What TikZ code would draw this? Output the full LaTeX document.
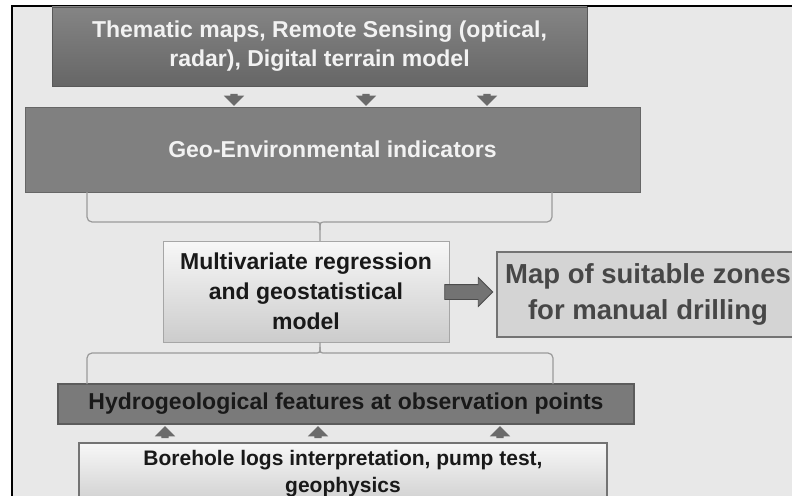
\documentclass[tikz,border=0pt]{standalone}
\usepackage{fontspec}
\setmainfont{Liberation Sans}
\usepackage{tikz}
\usetikzlibrary{arrows, positioning, shapes.arrows}

\definecolor{bgpanel}{HTML}{E8E8E8}
\definecolor{midbox}{HTML}{808080}
\definecolor{hydbox}{HTML}{7A7A7A}
\definecolor{mapbox}{HTML}{D4D4D4}
\definecolor{edgegray}{HTML}{5C5C5C}
\definecolor{linegray}{HTML}{9A9A9A}

\begin{document}
\begin{tikzpicture}[x=1pt, y=-1pt,
  box/.style={rectangle, inner sep=0pt, align=center, font=\bfseries},
  darkstep/.style={box, top color=black!48, bottom color=black!60, draw=black!65, text=white!95!black},
  geostep/.style={box, fill=midbox, draw=black!60, text=white!95!black},
  lightstep/.style={box, top color=white!97!black, bottom color=black!20, draw=black!35, text=black!90},
  tipdown/.style={single arrow, shape border rotate=270, fill=black!58, inner sep=3.5pt,
    minimum height=12pt, single arrow head extend=6.5pt},
  tipup/.style={tipdown, shape border rotate=90},
  link/.style={draw=linegray, line width=1.2pt}
]
\useasboundingbox (0,0) rectangle (792,495);
\clip (0,0) rectangle (792,495);

% frame
\fill[white] (0,0) rectangle (792,495);
\fill[bgpanel] (12,6) rectangle (800,500);
\draw[black, line width=2pt] (12,500) -- (12,6) -- (800,6);

% nodes
\node[darkstep, minimum width=535pt, minimum height=79pt, font=\bfseries\fontsize{23}{29}\selectfont] (src) at (319.5, 46.5)
  {Thematic maps, Remote Sensing (optical,\\radar), Digital terrain model};
\node[geostep, minimum width=615pt, minimum height=85pt, font=\bfseries\fontsize{23}{26}\selectfont] (geo) at (332.5, 149.5)
  {Geo-Environmental indicators};
\node[lightstep, minimum width=286pt, minimum height=101pt, font=\bfseries\fontsize{23}{30}\selectfont] (mult) at (306, 291.5)
  {Multivariate regression\\and geostatistical\\model};
\node[box, fill=mapbox, draw=black!55, line width=2.5pt, minimum width=302pt, minimum height=85pt,
  text=black!72, font=\bfseries\fontsize{27.5}{36}\selectfont] (zones) at (648, 294.5)
  {Map of suitable zones\\for manual drilling};
\node[box, fill=hydbox, draw=edgegray, line width=1.5pt, minimum width=576pt, minimum height=40pt,
  text=black!90, font=\bfseries\fontsize{23}{26}\selectfont] (hyd) at (346, 404)
  {Hydrogeological features at observation points};
\node[lightstep, draw=black!55, line width=1.5pt, minimum width=528pt, minimum height=66pt,
  font=\bfseries\fontsize{21}{27}\selectfont] (bore) at (343, 476)
  {\raisebox{10pt}{Borehole logs interpretation, pump test,}\\\raisebox{10pt}{geophysics}};

\node[tipdown] (dn1) at (234, 98) {};
\node[tipdown] (dn2) at (366, 98) {};
\node[tipdown] (dn3) at (487, 98) {};

\node[tipup] (up1) at (165, 434) {};
\node[tipup] (up2) at (318, 434) {};
\node[tipup] (up3) at (500, 434) {};

\node[single arrow, fill=black!55, draw=black!70, line width=0.8pt, inner sep=7pt,
  minimum height=48pt, single arrow head extend=7pt] (toMap) at (465, 292) {};

\coordinate (gl) at (87, 192);
\coordinate (gr) at (552, 192);
\coordinate (mtop) at (320, 241);
\coordinate (mbot) at (320, 342);
\coordinate (hl) at (87, 384);
\coordinate (hr) at (553, 384);

% arrows
\draw[link, rounded corners=5pt] (gl) |- (314, 222);
\draw[link, rounded corners=5pt] (gr) |- (326, 222);
\draw[link] (314, 222) .. controls (320, 222) .. (320, 230) -- (mtop);
\draw[link] (326, 222) .. controls (320, 222) .. (320, 230);

\draw[link, rounded corners=5pt] (hl) |- (314, 353);
\draw[link, rounded corners=5pt] (hr) |- (326, 353);
\draw[link] (314, 353) .. controls (320, 353) .. (320, 347) -- (mbot);
\draw[link] (326, 353) .. controls (320, 353) .. (320, 347);

\end{tikzpicture}
\end{document}
